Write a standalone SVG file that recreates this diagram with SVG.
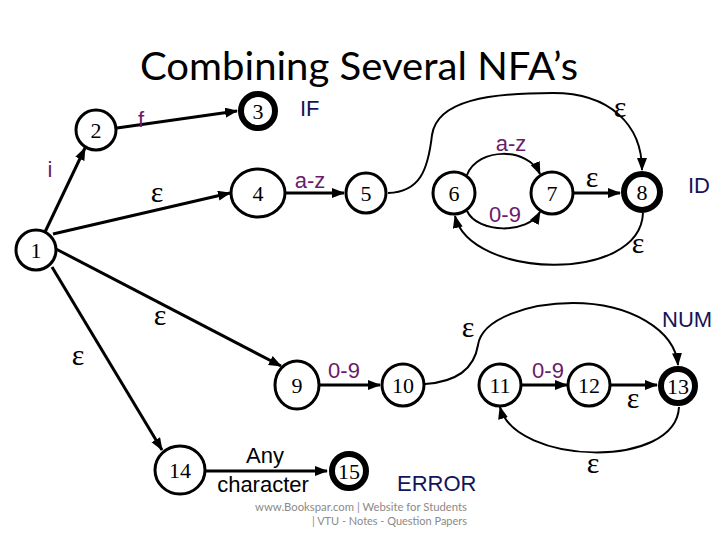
<svg xmlns="http://www.w3.org/2000/svg" width="720" height="540" viewBox="0 0 720 540">
<defs>
<marker id="ah" markerUnits="userSpaceOnUse" markerWidth="14" markerHeight="11" refX="12" refY="5" orient="auto">
<path d="M0,0 L13,5 L0,10 z" fill="#000"/>
</marker>
<style>
.n{fill:#fff;stroke:#000;stroke-width:3}
.acc{fill:#fff;stroke:#000;stroke-width:6}
.nl{font-family:"Liberation Serif",serif;font-size:22px;text-anchor:middle;fill:#000}
.e{stroke:#000;stroke-width:3;fill:none;marker-end:url(#ah)}
.c{stroke:#000;stroke-width:2;fill:none;marker-end:url(#ah)}
.lbl{font-family:"Liberation Sans",Arial,sans-serif;font-size:22px;fill:#6a1b6a;text-anchor:middle}
.tok{font-family:"Liberation Sans",Arial,sans-serif;font-size:22px;fill:#14145a}
.eps{font-family:"Liberation Serif",serif;font-size:30px;fill:#000;text-anchor:middle}
.blk{font-family:"Liberation Sans",Arial,sans-serif;font-size:22px;fill:#000;text-anchor:middle}
.wm{font-family:Lato,"Open Sans",sans-serif;font-size:12px;fill:#8a8a8a}
</style>
</defs>
<rect width="720" height="540" fill="#fff"/>
<text x="140" y="80" font-family="Lato,'Open Sans',sans-serif" font-size="38" textLength="438" lengthAdjust="spacingAndGlyphs" fill="#000">Combining Several NFA’s</text>

<g id="connectors">
<line class="e" x1="45" y1="232" x2="85" y2="148"/>
<line class="e" x1="117" y1="128" x2="237" y2="111"/>
<line class="e" x1="53" y1="234" x2="230" y2="193"/>
<line class="e" x1="286" y1="193" x2="344" y2="193"/>
<path class="c" d="M388,193 C420,192 428,170 432,135 C437,100 490,93 553,93 C610,93 642,125 642,170"/>
<path class="c" d="M467,175 C478,147 528,147 540,174"/>
<path class="c" d="M467,211 C478,234 528,234 540,212"/>
<line class="e" x1="573" y1="193" x2="620" y2="193"/>
<path class="c" d="M643,213 C640,284 470,279 455,216"/>
<line class="e" x1="56" y1="249" x2="281" y2="366"/>
<line class="e" x1="52" y1="267" x2="162" y2="450"/>
<line class="e" x1="319" y1="385" x2="380" y2="385"/>
<path class="c" d="M425,384 C455,382 474,370 478,345 C482,318 530,303 573,303 C630,303 675,330 678,365"/>
<line class="e" x1="522" y1="385" x2="567" y2="385"/>
<line class="e" x1="611" y1="385" x2="657" y2="385"/>
<path class="c" d="M679,407 C676,470 515,465 500,407"/>
<line class="e" x1="205" y1="471" x2="327" y2="471"/>
</g>

<g id="node1"><circle class="n" cx="36" cy="250" r="20"/><text class="nl" x="36" y="258">1</text></g>
<g id="node2"><circle class="n" cx="96" cy="130" r="20"/><text class="nl" x="96" y="138">2</text></g>
<g id="node3"><circle class="acc" cx="258" cy="111" r="17"/><text class="nl" x="258" y="119">3</text></g>
<g id="node4"><ellipse class="n" cx="258" cy="193" rx="27" ry="24"/><text class="nl" x="258" y="201">4</text></g>
<g id="node5"><circle class="n" cx="366" cy="193" r="20"/><text class="nl" x="366" y="201">5</text></g>
<g id="node6"><circle class="n" cx="454" cy="193" r="21"/><text class="nl" x="454" y="201">6</text></g>
<g id="node7"><circle class="n" cx="552" cy="193" r="21"/><text class="nl" x="552" y="201">7</text></g>
<g id="node8"><circle class="acc" cx="642" cy="192" r="18"/><text class="nl" x="642" y="200">8</text></g>
<g id="node9"><ellipse class="n" cx="297" cy="385" rx="22" ry="24"/><text class="nl" x="297" y="393">9</text></g>
<g id="node10"><circle class="n" cx="403" cy="385" r="21"/><text class="nl" x="403" y="393">10</text></g>
<g id="node11"><circle class="n" cx="500" cy="385" r="21"/><text class="nl" x="500" y="393">11</text></g>
<g id="node12"><circle class="n" cx="589" cy="385" r="21"/><text class="nl" x="589" y="393">12</text></g>
<g id="node13"><circle class="acc" cx="678" cy="386" r="17"/><text class="nl" x="678" y="394">13</text></g>
<g id="node14"><ellipse class="n" cx="180" cy="470" rx="25" ry="24"/><text class="nl" x="180" y="478">14</text></g>
<g id="node15"><circle class="acc" cx="349" cy="471" r="17"/><text class="nl" x="349" y="479">15</text></g>

<g id="labels">
<text class="lbl" x="50" y="177">i</text>
<text class="lbl" x="141" y="127">f</text>
<text class="lbl" x="310" y="188">a-z</text>
<text class="lbl" x="511" y="151">a-z</text>
<text class="lbl" x="505" y="222">0-9</text>
<text class="lbl" x="344" y="378">0-9</text>
<text class="lbl" x="548" y="378">0-9</text>
<text class="tok" x="300" y="116" font-size="21">IF</text>
<text class="tok" x="688" y="193" font-size="21">ID</text>
<text class="tok" x="662" y="327">NUM</text>
<text class="tok" x="397" y="491" font-size="23">ERROR</text>
<text class="blk" x="265" y="463">Any</text>
<text class="blk" x="263" y="492">character</text>
<text class="eps" x="157" y="202">ε</text>
<text class="eps" x="160" y="325">ε</text>
<text class="eps" x="78" y="365">ε</text>
<text class="eps" x="620" y="117">ε</text>
<text class="eps" x="592" y="187" font-size="17">ε</text>
<text class="eps" x="638" y="253">ε</text>
<text class="eps" x="468" y="337">ε</text>
<text class="eps" x="633" y="408">ε</text>
<text class="eps" x="593" y="473">ε</text>
<text class="wm" x="255" y="511" textLength="212" lengthAdjust="spacingAndGlyphs">www.Bookspar.com | Website for Students</text>
<text class="wm" x="312" y="525" textLength="155" lengthAdjust="spacingAndGlyphs">| VTU - Notes - Question Papers</text>
</g>
</svg>
